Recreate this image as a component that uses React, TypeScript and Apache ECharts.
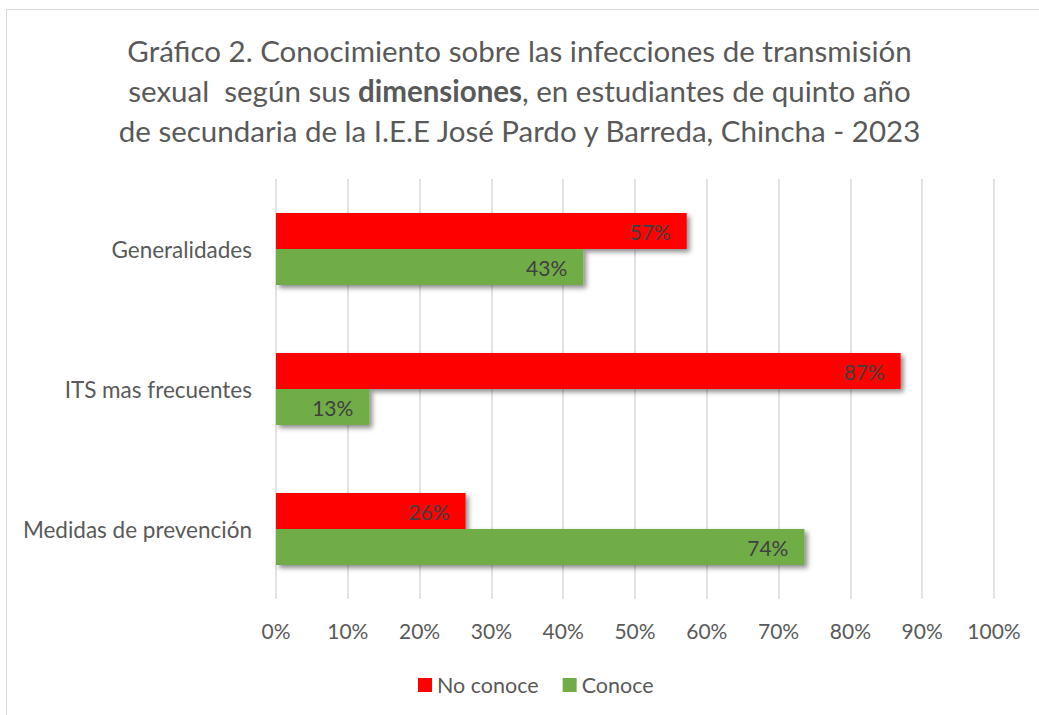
import React, { useEffect, useRef } from "react";
import * as echarts from "echarts";

const categories = ["Generalidades", "ITS mas frecuentes", "Medidas de prevención"];
const noConoce = [57.2, 87, 26.4];
const conoce = [42.8, 13, 73.6];
const xTicks = [0, 10, 20, 30, 40, 50, 60, 70, 80, 90, 100];

const FONT = "Lato";

export default function App() {
  const ref = useRef<HTMLDivElement>(null);
  useEffect(() => {
    if (!ref.current) return;
    const chart = echarts.init(ref.current, null, { renderer: "svg" });
    const labelCfg = {
      show: true,
      position: "insideRight",
      distance: 16,
      color: "#404040",
      fontSize: 21,
      fontFamily: FONT,
      formatter: (p: any) => Math.round(p.value) + "%",
    };
    const shadow = {
      shadowBlur: 5,
      shadowOffsetX: 3,
      shadowOffsetY: 3,
      shadowColor: "rgba(0,0,0,0.45)",
    };
    chart.setOption({
      animation: false,
      backgroundColor: "#ffffff",
      title: {
        left: "center",
        top: 25,
        text:
          "{n|Gráfico 2. Conocimiento sobre las infecciones de transmisión}\n{n|sexual  según sus }{b|dimensiones}{n|, en estudiantes de quinto año}\n{n|de secundaria de la I.E.E José Pardo y Barreda, Chincha - 2023}",
        textStyle: {
          fontFamily: FONT,
          fontSize: 29.5,
          color: "#595959",
          fontWeight: "normal",
          lineHeight: 40,
          rich: {
            n: { fontFamily: FONT, fontSize: 29.5, color: "#595959", lineHeight: 40 },
            b: { fontFamily: FONT, fontSize: 29.5, color: "#595959", fontWeight: "bold", lineHeight: 40 },
          },
        },
      },
      graphic: [
        {
          type: "rect",
          shape: { x: 6.5, y: 9.5, width: 1100, height: 800 },
          style: { fill: "none", stroke: "#d9d9d9", lineWidth: 1 },
          silent: true,
        },
      ],
      legend: {
        bottom: 14,
        left: 413,
        itemWidth: 14,
        itemHeight: 14,
        itemGap: 24,
        icon: "rect",
        textStyle: { fontFamily: FONT, fontSize: 21.5, color: "#595959" },
        data: ["No conoce", "Conoce"],
      },
      grid: { left: 276, right: 45, top: 179, bottom: 116, containLabel: false },
      xAxis: {
        type: "value",
        min: 0,
        max: 100,
        interval: 10,
        axisLine: { show: false },
        axisTick: { show: false },
        splitLine: { show: true, lineStyle: { color: "#d9d9d9", width: 1.5 } },
        axisLabel: {
          fontFamily: FONT,
          fontSize: 21,
          color: "#595959",
          margin: 21,
          formatter: (v: number) => (xTicks.includes(v) ? v + "%" : ""),
        },
      },
      yAxis: {
        type: "category",
        data: categories,
        inverse: true,
        axisLine: { show: false },
        axisTick: { show: false },
        splitLine: { show: false },
        axisLabel: { fontFamily: FONT, fontSize: 22.5, color: "#595959", margin: 24 },
      },
      series: [
        {
          name: "No conoce",
          type: "bar",
          data: noConoce,
          barWidth: 36,
          barGap: "0%",
          itemStyle: { color: "#ff0000", ...shadow },
          label: labelCfg,
        },
        {
          name: "Conoce",
          type: "bar",
          data: conoce,
          barWidth: 36,
          barGap: "0%",
          itemStyle: { color: "#70ad47", ...shadow },
          label: labelCfg,
        },
      ],
    });
    return () => chart.dispose();
  }, []);
  return (
    <div
      ref={ref}
      style={{ position: "absolute", left: 0, top: 0, width: 1039, height: 715 }}
    />
  );
}
